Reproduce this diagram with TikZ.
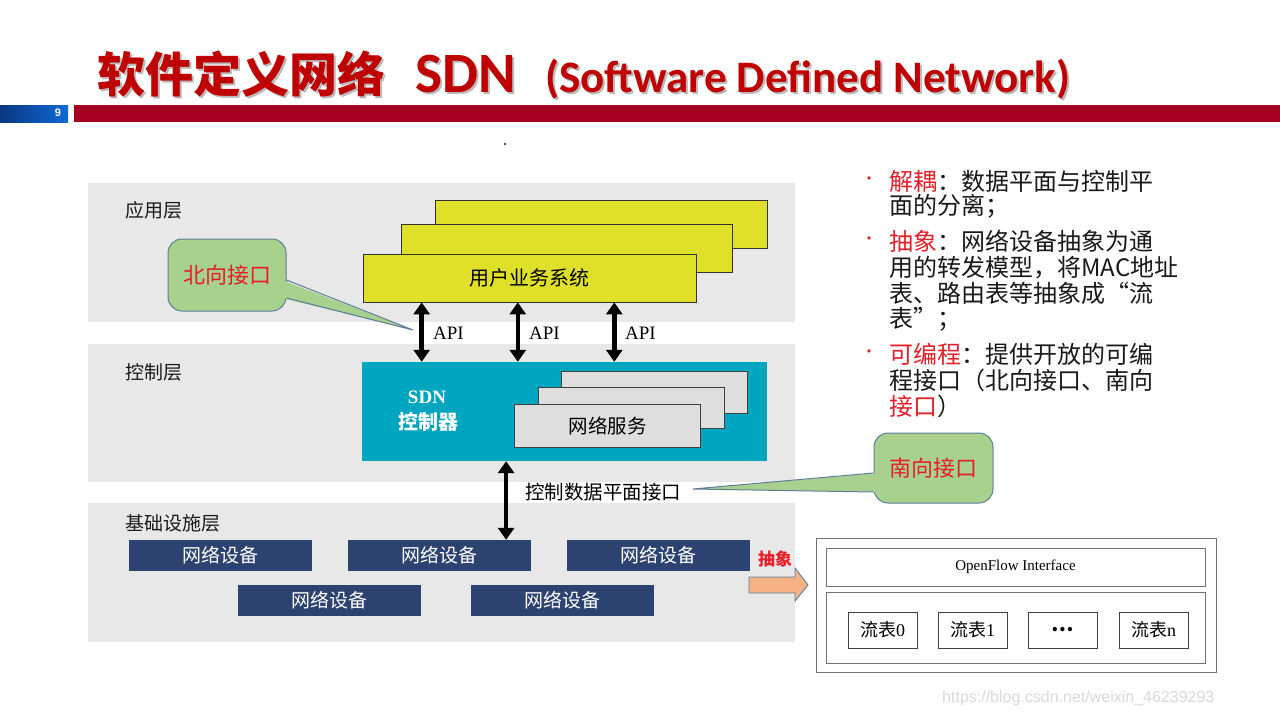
\documentclass[tikz,border=0pt]{standalone}
\usepackage{fontspec}
\setmainfont{Liberation Serif}
\newfontfamily\cjk{Noto Sans CJK SC}
\newfontfamily\carlito{Carlito}
\newfontfamily\arial{Liberation Sans}
\usetikzlibrary{calc,arrows.meta}
\newcommand{\fsz}[1]{\fontsize{#1}{#1}\selectfont}
\definecolor{bandgray}{RGB}{233,232,232}
\definecolor{titlered}{RGB}{192,0,0}
\definecolor{barred}{RGB}{165,0,33}
\definecolor{bardark}{RGB}{10,55,130}
\definecolor{barlight}{RGB}{15,105,215}
\definecolor{txtred}{RGB}{230,30,40}
\definecolor{navy}{RGB}{44,66,112}
\definecolor{sdncyan}{RGB}{0,166,191}
\definecolor{yel}{RGB}{224,224,40}
\definecolor{svc}{RGB}{222,222,222}
\definecolor{callg}{RGB}{169,209,142}
\definecolor{callb}{RGB}{95,125,155}
\definecolor{orangef}{RGB}{244,177,131}
\tikzset{
  band/.style={fill=bandgray, minimum width=707, minimum height=139, inner sep=0},
  lbl/.style={inner sep=0, font={\cjk\fsz{19}}, text=black!90},
  yelbox/.style={fill=yel, draw=black!80, line width=0.8pt, minimum height=48, inner sep=0},
  svcbox/.style={fill=svc, draw=black!75, line width=0.9pt, minimum width=186, minimum height=42, inner sep=0},
  devbox/.style={fill=navy, minimum width=183, minimum height=31, inner sep=0, text=white, font={\cjk\fsz{19}}},
  dblarr/.style={line width=4.5pt, black, {Triangle[width=16pt,length=12pt]}-{Triangle[width=16pt,length=12pt]}},
  apilbl/.style={inner sep=0, anchor=west, font=\fsz{19}},
  callbox/.style={fill=callg, draw=callb, line width=1pt, rounded corners=14, inner sep=0, text=txtred, font={\cjk\fsz{22}}},
  ofbox/.style={draw=black!55, line width=0.9pt, fill=white, inner sep=0},
  flowbox/.style={draw=black!75, line width=0.9pt, fill=white, minimum width=69, minimum height=36, inner sep=0, font=\fsz{18}},
  rtxt/.style={inner sep=0, anchor=base west, font={\cjk\fsz{24}}, text=black!90},
}
\begin{document}
\begin{tikzpicture}[x=1pt,y=-1pt]
\useasboundingbox (0,0) rectangle (1280,720);
\fill[white] (0,0) rectangle (1280,720);
% title
\node[inner sep=0, anchor=base west, text=gray!55, font={\cjk\bfseries\fsz{48}}] at (99,94) {软件定义网络};
\node[inner sep=0, anchor=base west, text=gray!55, font={\carlito\bfseries\fsz{57}}] at (417,94) {SDN};
\node[inner sep=0, anchor=base west, text=gray!55, font={\carlito\bfseries\fsz{45}}] at (547,94) {(Software Defined Network)};
\node[inner sep=0, anchor=base west, text=titlered, font={\cjk\bfseries\fsz{48}}] (t1) at (97,92) {软件定义网络};
\node[inner sep=0, anchor=base west, text=titlered, font={\carlito\bfseries\fsz{57}}] (t2) at (415,92) {SDN};
\node[inner sep=0, anchor=base west, text=titlered, font={\carlito\bfseries\fsz{45}}] (t3) at (545,92) {(Software Defined Network)};
% bar
\shade[left color=bardark, right color=barlight] (0,105) rectangle (68,122);
\fill[barred] (74,105) rectangle (1280,122);
\node[inner sep=0, text=white, font={\arial\bfseries\fsz{11}}] (pg) at (58,113) {9};
\fill[black!70] (504,143) rectangle (506,145);
% bands
\node[band] (bapp) at (441.5,252.5) {};
\node[band, minimum height=138] (bctl) at (441.5,413) {};
\node[band] (binf) at (441.5,572.5) {};
\node[lbl, anchor=west] (lapp) at (125,210) {应用层};
\node[lbl, anchor=west] (lctl) at (125,372) {控制层};
\node[lbl, anchor=west] (linf) at (125,523) {基础设施层};
% yellow boxes
\node[yelbox, minimum width=332] (y3) at (601,224) {};
\node[yelbox, minimum width=331] (y2) at (566.5,248) {};
\node[yelbox, minimum width=333, font={\cjk\fsz{20}}] (y1) at (529.5,278) {用户业务系统};
% SDN controller
\node[fill=sdncyan, minimum width=405, minimum height=99, inner sep=0] (sdn) at (564.5,411.5) {};
\node[inner sep=0, text=white, font={\bfseries\fsz{19}}] (sdnt) at (427,397) {SDN};
\node[inner sep=0, text=white, font={\cjk\bfseries\fsz{20}}] (sdnc) at (428,422) {控制器};
\node[svcbox] (s3) at (654,392) {};
\node[svcbox, minimum height=41] (s2) at (631,407.5) {};
\node[svcbox, minimum height=43, font={\cjk\fsz{19.5}}] (s1) at (607.5,425.5) {网络服务};
% API arrows
\coordinate (a1) at ($(y1.south west)!0.177!(y1.south east)$);
\coordinate (a2) at ($(y1.south west)!0.465!(y1.south east)$);
\coordinate (a3) at ($(y1.south west)!0.754!(y1.south east)$);
\draw[dblarr] (a1) -- (a1 |- sdn.north);
\draw[dblarr] (a2) -- (a2 |- sdn.north);
\draw[dblarr] (a3) -- (a3 |- sdn.north);
\node[apilbl] (api1) at (433,333) {API};
\node[apilbl] (api2) at (529,333) {API};
\node[apilbl] (api3) at (625,333) {API};
% devices
\node[devbox] (d1) at (220.5,555.5) {网络设备};
\node[devbox] (d2) at (439.5,555.5) {网络设备};
\node[devbox] (d3) at (658.5,555.5) {网络设备};
\node[devbox] (d4) at (329.5,600.5) {网络设备};
\node[devbox] (d5) at (562.5,600.5) {网络设备};
% control-data plane arrow
\coordinate (c1) at ($(sdn.south west)!0.356!(sdn.south east)$);
\draw[dblarr] (c1) -- (c1 |- d2.north);
\node[inner sep=0, anchor=west, font={\cjk\fsz{19.5}}] (cdl) at (525,492) {控制数据平面接口};
% callout north
\node[callbox, minimum width=118, minimum height=72] (nb) at (227,275) {北向接口};
\coordinate (nbtip) at (413,330);
\fill[callg] ($(nb.east)+(-5,5)$) -- (nbtip) -- ($(nb.east)+(-5,23)$) -- cycle;
\draw[callb, line width=1pt] ($(nb.east)+(0,5)$) -- (nbtip) -- ($(nb.east)+(0,23)$);
% callout south
\node[callbox, minimum width=119, minimum height=70] (sb) at (933.5,468) {南向接口};
\coordinate (sbtip) at (693,489);
\fill[callg] ($(sb.west)+(5,5)$) -- (sbtip) -- ($(sb.west)+(5,24)$) -- cycle;
\draw[callb, line width=1pt] ($(sb.west)+(0,5)$) -- (sbtip) -- ($(sb.west)+(0,24)$);
% abstraction arrow
\filldraw[fill=orangef, draw=callb, line width=0.9pt] (749,577) -- (795,577) -- (795,568) -- (808,585) -- (795,601) -- (795,593) -- (749,593) -- cycle;
\node[inner sep=0, text=txtred, font={\cjk\bfseries\fsz{17}}] (abs) at (775,559) {抽象};
% OpenFlow
\node[ofbox, minimum width=400, minimum height=134] (of) at (1016,605) {};
\node[ofbox, minimum width=379, minimum height=38, font=\fsz{15}] (ofi) at (1015.5,567) {OpenFlow Interface};
\node[ofbox, minimum width=379, minimum height=71] (oft) at (1015.5,627.5) {};
\node[flowbox] (f0) at (882.5,630) {{\cjk 流表}0};
\node[flowbox] (f1) at (972.5,630) {{\cjk 流表}1};
\node[flowbox] (f2) at (1063,630) {{\cjk\bfseries\fsz{20}…}};
\node[flowbox] (fn) at (1153.5,630) {{\cjk 流表}n};
% watermark
\node[inner sep=0, anchor=west, text=gray!30, font={\arial\fsz{16}}] (wm) at (942,698) {https://blog.csdn.net/weixin\_46239293};
% right text
\node[inner sep=0, text=txtred, font={\cjk\fsz{16}}] (b1) at (869,181) {•};
\node[inner sep=0, text=txtred, font={\cjk\fsz{16}}] (b2) at (869,241) {•};
\node[inner sep=0, text=txtred, font={\cjk\fsz{16}}] (b3) at (869,354) {•};
\node[rtxt] (r1) at (889,190) {\textcolor{txtred}{解耦}：数据平面与控制平};
\node[rtxt] (r2) at (889,214) {面的分离；};
\node[rtxt] (r3) at (889,250) {\textcolor{txtred}{抽象}：网络设备抽象为通};
\node[rtxt] (r4) at (889,276) {用的转发模型，将MAC地址};
\node[rtxt] (r5) at (889,302) {表、路由表等抽象成“流};
\node[rtxt] (r6) at (889,327) {表”；};
\node[rtxt] (r7) at (889,363) {\textcolor{txtred}{可编程}：提供开放的可编};
\node[rtxt] (r8) at (889,389) {程接口（北向接口、南向};
\node[rtxt] (r9) at (889,415) {\textcolor{txtred}{接口}）};
\end{tikzpicture}
\end{document}
